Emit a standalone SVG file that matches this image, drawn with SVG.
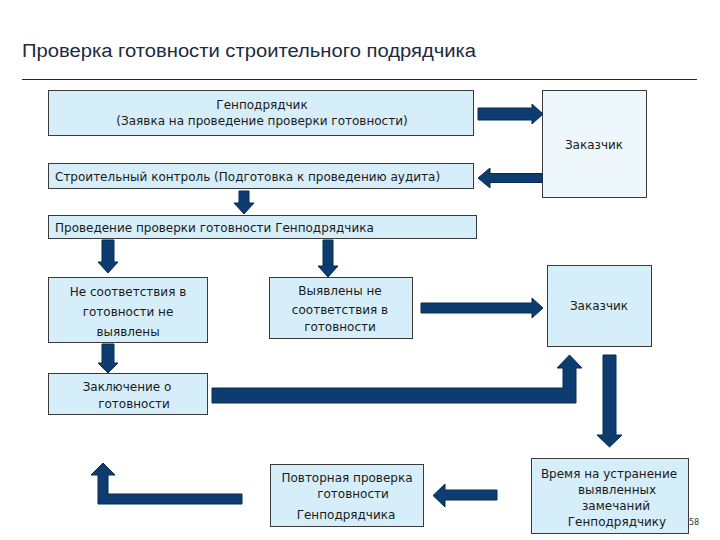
<svg xmlns="http://www.w3.org/2000/svg" width="720" height="540" viewBox="0 0 720 540">
<style>
.box{fill:#d6eef9;stroke:#3a3a3a;stroke-width:1}
.pale{fill:#eef7fb}
.t{font-family:"DejaVu Sans",Verdana,sans-serif;font-size:12px;fill:#1a1a1a;text-anchor:middle}
.tl{text-anchor:start}
.arr{fill:#0d3c71;stroke:#082a50;stroke-width:1;stroke-linejoin:miter}
</style>
<rect width="720" height="540" fill="#ffffff"/>
<text x="22" y="57" font-family="'Liberation Sans',Arial,sans-serif" font-size="18" fill="#1b2b40" textLength="454" lengthAdjust="spacingAndGlyphs">Проверка готовности строительного подрядчика</text>
<line x1="22" y1="79.5" x2="697" y2="79.5" stroke="#1b2b3a" stroke-width="1"/>

<g id="n-genpodryadchik">
<rect class="box" x="48.5" y="90.5" width="425" height="45"/>
<text class="t" x="262" y="109">Генподрядчик</text>
<text class="t" x="262" y="125">(Заявка на проведение  проверки готовности)</text>
</g>
<g id="n-zakazchik1">
<rect class="box pale" x="542.5" y="90.5" width="104" height="107"/>
<text class="t" x="594" y="149">Заказчик</text>
</g>
<g id="n-stroykontrol">
<rect class="box" x="48.5" y="163.5" width="425" height="25"/>
<text class="t tl" x="55" y="181">Строительный контроль (Подготовка к проведению аудита)</text>
</g>
<g id="n-provedenie">
<rect class="box" x="48.5" y="215.5" width="428" height="23"/>
<text class="t tl" x="55" y="232">Проведение проверки готовности Генподрядчика</text>
</g>
<g id="n-ne-vyyavleny">
<rect class="box" x="48.5" y="277.5" width="159" height="65"/>
<text class="t" x="128" y="296">Не соответствия в</text>
<text class="t" x="128" y="316">готовности не</text>
<text class="t" x="128" y="336">выявлены</text>
</g>
<g id="n-vyyavleny">
<rect class="box" x="269.5" y="277.5" width="143" height="61"/>
<text class="t" x="340" y="295">Выявлены не</text>
<text class="t" x="340" y="314">соответствия в</text>
<text class="t" x="340" y="331">готовности</text>
</g>
<g id="n-zakazchik2">
<rect class="box" x="547.5" y="265.5" width="104" height="81"/>
<text class="t" x="599" y="310">Заказчик</text>
</g>
<g id="n-zaklyuchenie">
<rect class="box" x="48.5" y="373.5" width="159" height="41"/>
<text class="t" x="127" y="391">Заключение о</text>
<text class="t" x="134" y="408">готовности</text>
</g>
<g id="n-povtornaya">
<rect class="box" x="270.5" y="464.5" width="153" height="62"/>
<text class="t" x="347" y="482">Повторная проверка</text>
<text class="t" x="353" y="498">готовности</text>
<text class="t" x="346" y="519">Генподрядчика</text>
</g>
<g id="n-vremya">
<rect class="box" x="531.5" y="458.5" width="157" height="75"/>
<text class="t" x="609" y="478">Время на устранение</text>
<text class="t" x="617" y="494">выявленных</text>
<text class="t" x="616" y="510">замечаний</text>
<text class="t" x="617" y="526">Генподрядчику</text>
</g>
<text x="689" y="525" font-family="'DejaVu Sans',Verdana,sans-serif" font-size="8" fill="#333333">58</text>

<g id="connectors">
<polygon class="arr" points="478,108 532,108 532,104 543,114 532,124 532,120 478,120"/>
<polygon class="arr" points="542,173.5 490,173.5 490,168 478,178 490,188 490,182.5 542,182.5"/>
<polygon class="arr" points="239,191 249,191 249,203 254,203 244,214 234,203 239,203"/>
<polygon class="arr" points="102,240 114,240 114,262 118,262 108,273 98,262 102,262"/>
<polygon class="arr" points="323,240 333,240 333,266 338,266 328,277 318,266 323,266"/>
<polygon class="arr" points="421,303 532,303 532,298 543,308 532,318 532,313 421,313"/>
<polygon class="arr" points="102,344 114,344 114,363 118,363 108,373 98,363 102,363"/>
<polygon class="arr" points="212,388 563,388 563,368 557,368 569.5,355 582,368 576,368 576,403 212,403"/>
<polygon class="arr" points="603,355 616,355 616,435 622,435 609.5,447 597,435 603,435"/>
<polygon class="arr" points="497,490 445,490 445,484 433,495.5 445,507 445,500 497,500"/>
<polygon class="arr" points="242,494 108,494 108,475 115,475 103,463 91,475 98,475 98,504 242,504"/>
</g>
</svg>
